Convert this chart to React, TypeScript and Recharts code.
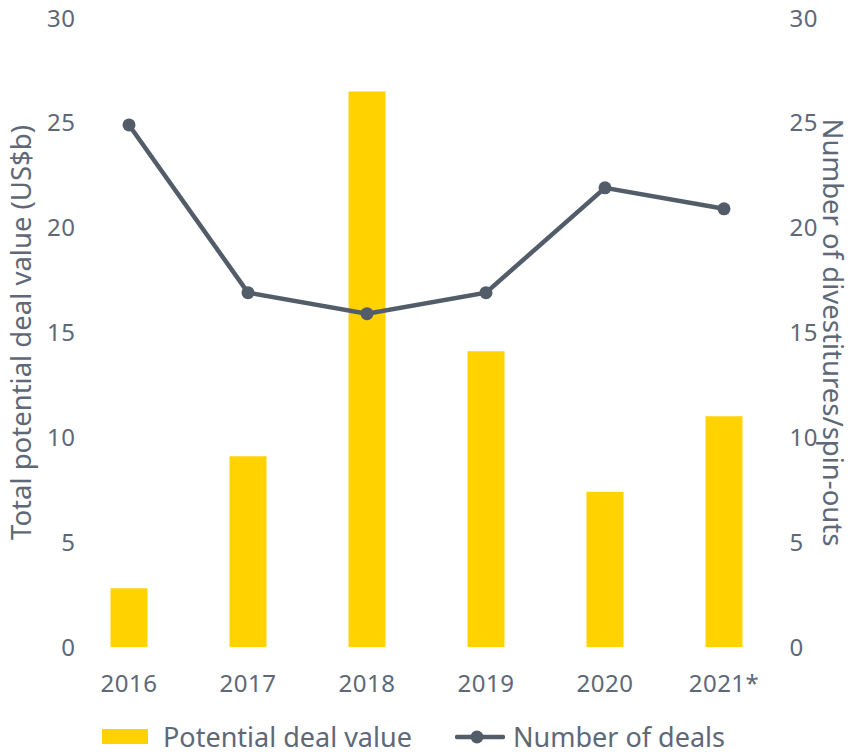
import React from 'react';
import { ComposedChart, Bar, Line, XAxis, YAxis, Legend, Label } from 'recharts';

const years = ['2016', '2017', '2018', '2019', '2020', '2021*'];
const dealValue = [2.8, 9.1, 26.5, 14.1, 7.4, 11.0];
const dealCount = [24.9, 16.9, 15.9, 16.9, 21.9, 20.9];
const yTicks = [0, 5, 10, 15, 20, 25, 30];

const data = years.map((y, i) => ({ year: y, value: dealValue[i], deals: dealCount[i] }));

const YELLOW = '#FFD200';
const LINE = '#535d6a';
const TEXT = '#5e6877';
const FONT = '"Noto Sans", sans-serif';

const LegendContent = () => (
  <div style={{ position: 'relative', height: 49, fontFamily: FONT, color: TEXT, fontSize: 27 }}>
    <div style={{ position: 'absolute', left: 102, top: 22, width: 46, height: 15, background: YELLOW }} />
    <div style={{ position: 'absolute', left: 163, top: 12, lineHeight: '36px', whiteSpace: 'nowrap' }}>Potential deal value</div>
    <svg style={{ position: 'absolute', left: 455, top: 20 }} width={50} height={20}>
      <line x1={2} y1={10} x2={48} y2={10} stroke={LINE} strokeWidth={4.5} strokeLinecap="round" />
      <circle cx={22} cy={10} r={6.5} fill={LINE} />
    </svg>
    <div style={{ position: 'absolute', left: 513, top: 12, lineHeight: '36px', whiteSpace: 'nowrap' }}>Number of deals</div>
  </div>
);

export default function App() {
  return (
    <div style={{ position: 'absolute', left: 0, top: 0 }}>
      <ComposedChart
        width={852}
        height={756}
        data={data}
        margin={{ top: 18, right: 0, left: 0, bottom: 0 }}
        barCategoryGap={0}
      >
        <XAxis
          dataKey="year"
          axisLine={false}
          tickLine={false}
          height={60}
          interval={0}
          tick={{ fill: TEXT, fontSize: 24, fontFamily: FONT, dy: 20, letterSpacing: 0.5 }}
        />
        <YAxis
          yAxisId="left"
          domain={[0, 30]}
          ticks={yTicks}
          axisLine={false}
          tickLine={false}
          width={69.5}
          interval={0}
          tick={{ fill: TEXT, fontSize: 24, fontFamily: FONT, dx: 14, letterSpacing: 0.5 }}
        >
          <Label
            value="Total potential deal value (US$b)"
            angle={-90}
            position="insideLeft"
            offset={0}
            dx={21}
            style={{ fill: TEXT, fontSize: 27.5, fontFamily: FONT, textAnchor: 'middle' }}
          />
        </YAxis>
        <YAxis
          yAxisId="right"
          orientation="right"
          domain={[0, 30]}
          ticks={yTicks}
          axisLine={false}
          tickLine={false}
          width={68.5}
          interval={0}
          tick={{ fill: TEXT, fontSize: 24, fontFamily: FONT, dx: -2, letterSpacing: 0.5 }}
        >
          <Label
            value="Number of divestitures/spin-outs"
            angle={90}
            position="insideRight"
            offset={0}
            dx={-19}
            style={{ fill: TEXT, fontSize: 27.5, fontFamily: FONT, textAnchor: 'middle' }}
          />
        </YAxis>
        <Legend verticalAlign="bottom" content={<LegendContent />} wrapperStyle={{ height: 49, width: 852, left: 0 }} />
        <Bar yAxisId="left" dataKey="value" fill={YELLOW} barSize={37} isAnimationActive={false} name="Potential deal value" />
        <Line
          yAxisId="right"
          dataKey="deals"
          stroke={LINE}
          strokeWidth={4.5}
          dot={{ r: 6.5, fill: LINE, stroke: LINE, strokeWidth: 0 }}
          activeDot={false}
          isAnimationActive={false}
          name="Number of deals"
        />
      </ComposedChart>
    </div>
  );
}
